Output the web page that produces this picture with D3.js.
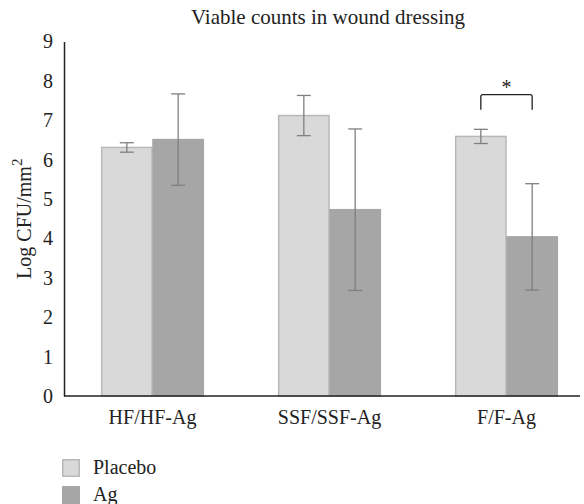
<!DOCTYPE html>
<html>
<head>
<meta charset="utf-8">
<script src="https://cdn.jsdelivr.net/npm/d3@7"></script>
<style>
  body { margin: 0; background: #fff; }
  text { font-family: "Liberation Serif", "DejaVu Serif", serif; fill: #222; }
</style>
</head>
<body>
<script>
const categories = ["HF/HF-Ag", "SSF/SSF-Ag", "F/F-Ag"];
const seriesNames = ["Placebo", "Ag"];
const placebo = [6.31, 7.12, 6.59];
const placeboErr = [0.12, 0.51, 0.18];
const ag = [6.51, 4.73, 4.04];
const agErr = [1.16, 2.05, 1.35];
const yTicks = [0, 1, 2, 3, 4, 5, 6, 7, 8, 9];

const width = 584, height = 504;
const margin = {left: 64, right: 4, top: 41.5, bottom: 108};

const svg = d3.select('body').append('svg').attr('width', width).attr('height', height);

const x = d3.scaleBand().domain(categories).range([margin.left, 595]).paddingInner(0.42).paddingOuter(0.21);
const xs = d3.scaleBand().domain(seriesNames).range([0, x.bandwidth()]);
const y = d3.scaleLinear().domain([0, 9]).range([height - margin.bottom, margin.top]);

const fills = {Placebo: '#d9d9d9', Ag: '#a6a6a6'};
const strokes = {Placebo: '#b8b8b8', Ag: '#a6a6a6'};

const rows = [];
categories.forEach((c, i) => {
    rows.push({cat: c, s: 'Placebo', v: placebo[i], e: placeboErr[i]});
    rows.push({cat: c, s: 'Ag', v: ag[i], e: agErr[i]});
});

// title
svg.append('text').attr('x', 328).attr('y', 24).attr('text-anchor', 'middle')
    .style('font-size', '21px').text('Viable counts in wound dressing');

// bars
svg.append('g').selectAll('rect').data(rows).join('rect')
    .attr('x', d => x(d.cat) + xs(d.s) + 0.5)
    .attr('y', d => y(d.v))
    .attr('width', xs.bandwidth() - 1)
    .attr('height', d => y(0) - y(d.v))
    .attr('fill', d => fills[d.s])
    .attr('stroke', d => strokes[d.s])
    .attr('stroke-width', 1.5);

// error bars
const eb = svg.append('g').attr('stroke', '#7f7f7f').attr('stroke-width', 1.3);
rows.forEach(d => {
    const cx = x(d.cat) + xs(d.s) + xs.bandwidth() / 2;
    eb.append('line').attr('x1', cx).attr('x2', cx).attr('y1', y(d.v + d.e)).attr('y2', y(d.v - d.e));
    [d.v + d.e, d.v - d.e].forEach(v => {
        eb.append('line').attr('x1', cx - 7).attr('x2', cx + 7).attr('y1', y(v)).attr('y2', y(v));
    });
});

// y axis
const yAxis = svg.append('g').attr('transform', `translate(${margin.left},0)`)
    .call(d3.axisLeft(y).tickValues(yTicks).tickSize(0).tickPadding(11));
yAxis.select('.domain').attr('stroke', '#222').attr('stroke-width', 1.5);
yAxis.selectAll('text').style('font-size', '20px').attr('fill', '#222');

// x axis
const xAxis = svg.append('g').attr('transform', `translate(0,${y(0)})`)
    .call(d3.axisBottom(x).tickSize(0).tickPadding(14));
xAxis.select('.domain').attr('d', `M${margin.left},0H580`).attr('stroke', '#222').attr('stroke-width', 1.5);
xAxis.selectAll('text').style('font-size', '20px').attr('fill', '#222');

// y label
const yl = svg.append('text').attr('transform', `translate(31,${(y(0) + y(9)) / 2}) rotate(-90)`)
    .attr('text-anchor', 'middle').style('font-size', '20px');
yl.append('tspan').text('Log CFU/mm');
yl.append('tspan').attr('dy', -9).style('font-size', '15px').text('2');

// significance bracket
const fx = x('F/F-Ag');
const bx1 = fx + xs.bandwidth() / 2, bx2 = fx + xs.bandwidth() * 1.5;
const by = y(7.65);
svg.append('path')
    .attr('d', `M${bx1},${by + 15}V${by + 2}Q${bx1},${by} ${bx1 + 2},${by}H${bx2 - 2}Q${bx2},${by} ${bx2},${by + 2}V${by + 15}`)
    .attr('fill', 'none').attr('stroke', '#222').attr('stroke-width', 1.3);
svg.append('text').attr('x', (bx1 + bx2) / 2).attr('y', by - 1).attr('text-anchor', 'middle')
    .style('font-size', '20px').text('*');

// legend
const lg = svg.append('g').attr('transform', 'translate(62,459)');
seriesNames.forEach((s, i) => {
    const g = lg.append('g').attr('transform', `translate(0,${i * 27})`);
    g.append('rect').attr('x', 0.75).attr('y', 0.75).attr('width', 16.5).attr('height', 16.5)
        .attr('fill', fills[s]).attr('stroke', strokes[s]).attr('stroke-width', 1.5);
    g.append('text').attr('x', 31).attr('y', 15).style('font-size', '20px').text(s);
});
</script>
</body>
</html>
